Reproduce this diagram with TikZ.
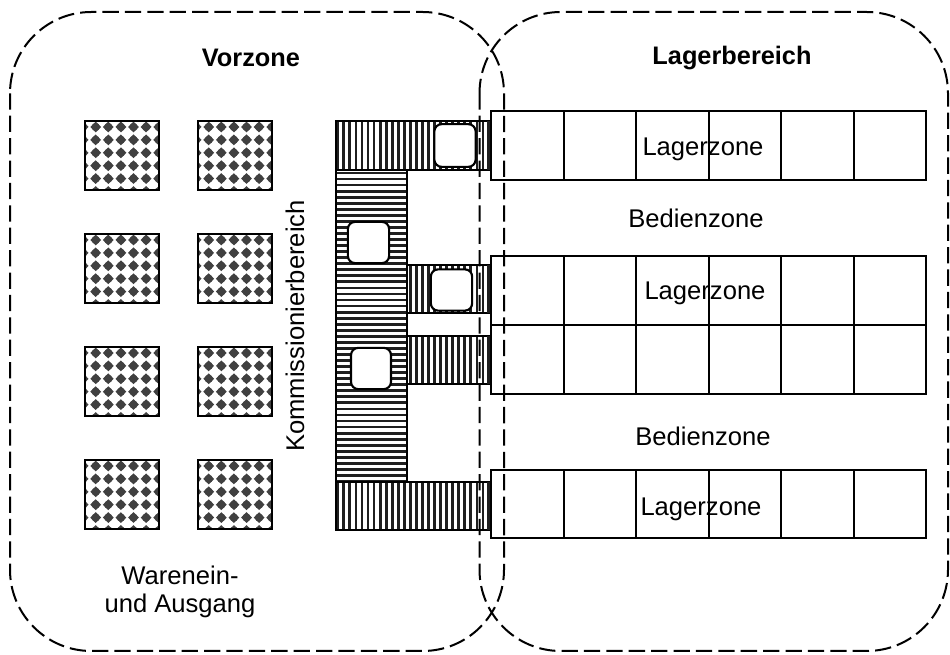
\documentclass[tikz,border=0pt]{standalone}
\usepackage{fontspec}
\setmainfont{Liberation Sans}
\tikzset{
  lbl/.style={inner sep=0pt,font=\fontsize{19.2pt}{22pt}\selectfont,align=center},
  headlbl/.style={lbl,font=\fontsize{19pt}{22pt}\selectfont\bfseries},
  zone/.style={draw=black,line width=1.5pt,dash pattern=on 12.2pt off 4.6pt,rounded corners=61pt},
  rack/.style={draw=black,fill=white,line width=1.4pt},
  band/.style={draw=black,line width=1.7pt},
  stripe/.style={line width=2.1pt,black!88},
  carrier/.style={draw=black,fill=white,line width=1.6pt,rounded corners=5.5pt},
  dotbox/.style={draw=black,line width=1.6pt},
  dot/.style={fill=black!75,draw=none}
}
% tray: left x, top y
\newcommand{\tray}[2]{%
  \begin{scope}
    \clip (#1,#2) rectangle ++(74,69);
    \foreach \c in {-1,0,...,5}{
      \foreach \r in {0,...,5}{
        \fill[dot] ({#1+10.7+\c*12.6},{#2+6+\r*12.9}) circle (3.1pt);
        \fill[dot] ({#1+10.7+\c*12.6-5.4},{#2+6+\r*12.9}) -- ++(5.4,-5.4) -- ++(5.4,5.4) -- ++(-5.4,5.4) -- cycle;
      }
    }
  \end{scope}
  \draw[dotbox] (#1,#2) rectangle ++(74,69);
}
% vertical stripes: x1,x2,y1,y2
\newcommand{\vband}[4]{%
  \begin{scope}
    \clip (#1,#3) rectangle (#2,#4);
    \foreach \k in {0,...,27}{
      \draw[stripe] ({#2-2-\k*6.05},#3) -- ({#2-2-\k*6.05},#4);
    }
  \end{scope}
  \draw[band] (#1,#3) rectangle (#2,#4);
  \fill[black!88] ({#2-4},#3) rectangle (#2,#4);
}
\begin{document}
\begin{tikzpicture}[x=0.75pt,y=-0.75pt]
\useasboundingbox[fill=white] (0,0) rectangle (950,655);

% trays
\foreach \yy in {121,234,347,460}{
  \tray{85}{\yy}
  \tray{198}{\yy}
}

% horizontal stripes column
\begin{scope}
  \clip (336,170) rectangle (407,482);
  \foreach \k in {0,...,52}{
    \draw[stripe] (336,{173+\k*6.05}) -- (407,{173+\k*6.05});
  }
\end{scope}
\draw[band] (336,170) rectangle (407,482);

% conveyor bands
\vband{336}{491}{121}{170}
\vband{407}{491}{265}{313}
\vband{407}{491}{336}{384}
\vband{336}{491}{482}{530}

% carriers
\node[carrier,minimum width=31pt,minimum height=32pt,inner sep=0pt] (c1) at (455,145.5) {};
\node[carrier,minimum width=31pt,minimum height=31pt,inner sep=0pt] (c2) at (368.5,242.5) {};
\node[carrier,minimum width=31pt,minimum height=31pt,inner sep=0pt] (c3) at (451.5,290) {};
\node[carrier,minimum width=30pt,minimum height=31pt,inner sep=0pt] (c4) at (371,368.5) {};

% racks
\foreach \ya/\yb in {111/180,256/325,325/394,470/538}{
  \foreach \xa/\xb in {491/564,564/636,636/709,709/781,781/854,854/926}{
    \draw[rack] (\xa,\ya) rectangle (\xb,\yb);
  }
}

% zones
\draw[zone] (10,12) rectangle (504,651);
\draw[zone] (479.5,12) rectangle (948,651);

% labels
\node[headlbl] (vz) at (251,58) {Vorzone};
\node[headlbl] (lb) at (732,58) {Lagerbereich};
\node[lbl] (lz1) at (703,149) {Lagerzone};
\node[lbl] (lz2) at (705,293) {Lagerzone};
\node[lbl] (lz3) at (701,509) {Lagerzone};
\node[lbl] (bz1) at (696,218) {Bedienzone};
\node[lbl] (bz2) at (703,436) {Bedienzone};
\node[lbl] (wa1) at (180,575) {Warenein-};
\node[lbl] (wa2) at (180,606) {und Ausgang};
\node[lbl,rotate=90] (kb) at (295,326) {Kommissionierbereich};
\end{tikzpicture}
\end{document}
